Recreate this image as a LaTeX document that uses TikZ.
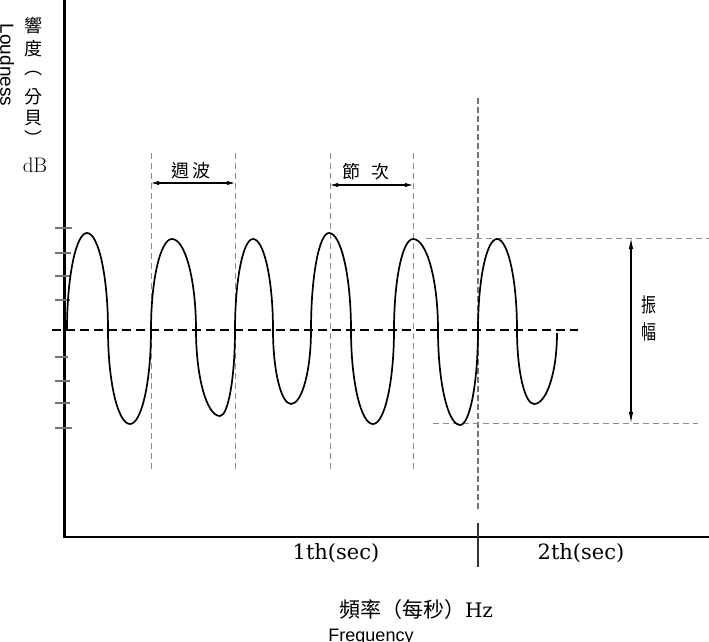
\documentclass[tikz,border=0pt]{standalone}
\usepackage{fontspec}
\newfontfamily\cjk{Noto Sans CJK TC}
\newfontfamily\lsans{Liberation Sans}
\newfontfamily\dvserif{DejaVu Serif}
\usetikzlibrary{arrows.meta}
\begin{document}
\begin{tikzpicture}[x=1pt,y=-1pt,
  axisline/.style={line width=2.8pt,black},
  tickline/.style={line width=1.1pt,black!55},
  guide/.style={line width=1pt,black!45,dash pattern=on 6pt off 4pt},
  baseline/.style={line width=2.4pt,black,dash pattern=on 9pt off 5pt},
  wave/.style={line width=1.7pt,black,line join=round},
  dimarrow/.style={line width=1.1pt,{Latex[length=8pt,width=4.5pt]}-{Latex[length=8pt,width=4.5pt]}},
  cjklabel/.style={font=\cjk\fontsize{18}{20}\selectfont,inner sep=0pt},
  serlabel/.style={font=\dvserif\fontsize{21}{24}\selectfont,inner sep=0pt}]
\useasboundingbox (0,0) rectangle (709,642);
% axes
\coordinate (O) at (64.5,537);
\coordinate (ytop) at (64.5,0);
\coordinate (xend) at (709,537);
\draw[axisline] (ytop) -- (O) -- (xend);
% ticks
\foreach \ty/\tl in {228/72,253/71,276/71,300/70,357/68,381/70,403/70,428/72}
  \draw[tickline] (55,\ty) -- (\tl,\ty);
% baseline
\coordinate (b0) at (52,330);
\coordinate (b1) at (578,330);
\draw[baseline] (b0) -- (b1);
% guide lines
\foreach \gx/\nm in {151/ga,235/gb,330/gc,413/gd}{
  \coordinate (\nm t) at (\gx,153);
  \coordinate (\nm b) at (\gx,472);
  \draw[guide] (\nm t) -- (\nm b);
}
\coordinate (get) at (478,98);
\coordinate (geb) at (478,510);
\draw[guide,black!55,line width=1.2pt,dash pattern=on 6pt off 3pt] (get) -- (geb);
\coordinate (gst) at (478,523);
\coordinate (gsb) at (478,567);
\draw[line width=1.1pt,black!80] (gst) -- (gsb);
\coordinate (htl) at (426,238);
\coordinate (htr) at (709,238);
\coordinate (hbl) at (433,423);
\coordinate (hbr) at (698,423);
\draw[guide] (htl) -- (htr);
\draw[guide] (hbl) -- (hbr);
% wave
\draw[wave] (67,330)
  foreach \xa/\xm/\ye/\xb in {67/87/233/108,108/130/424/151,151/172/239/196,196/220/416/235,
     235/253/239/273,273/291/404/311,311/329/233/351,351/373/424/394,394/413/239/438,
     438/460/425/478,478/497/239/517}
  { .. controls (\xa,{330+0.55*(\ye-330)}) and ({\xm-0.55*(\xm-\xa)},\ye) .. (\xm,\ye)
    .. controls ({\xm+0.55*(\xb-\xm)},\ye) and (\xb,{330+0.55*(\ye-330)}) .. (\xb,330) }
  .. controls (517,{330+0.55*74}) and ({534-0.55*17},404) .. (534,404)
  .. controls ({534+0.55*23},404) and (557,{333+0.55*71}) .. (557,333);
% dimension arrows
\coordinate (wa) at (151,183);
\coordinate (wb) at (235,183);
\draw[dimarrow] (wa) -- (wb);
\coordinate (ja) at (330,185);
\coordinate (jb) at (413,185);
\draw[dimarrow] (ja) -- (jb);
\coordinate (za) at (631,238);
\coordinate (zb) at (631,423);
\draw[line width=1.1pt,{Latex[length=11pt,width=4.5pt]}-{Latex[length=11pt,width=4.5pt]}] (za) -- (zb);
% labels
\node[cjklabel] (zhouBo) at (191,171) {週\hspace{4pt}波};
\node[cjklabel] (jieCi) at (366,172) {節\hspace{12pt}次};
\node[cjklabel,font=\cjk\fontsize{20}{22}\selectfont,xscale=0.75] (zhen) at (649,305) {振};
\node[cjklabel,font=\cjk\fontsize{20}{22}\selectfont,xscale=0.75] (fu) at (649,332) {幅};
\node[rotate=-90,anchor=base,inner sep=0pt,font=\lsans\fontsize{19}{22}\selectfont] (loud) at (0.5,65) {Loudness};
\foreach \ch/\cy/\nm in {響/25.5/v1,度/49/v2,︵/74/v3,分/96.5/v4,貝/118.5/v5,︶/138/v6}
  \node[cjklabel] (\nm) at (33,\cy) {\ch};
\node[inner sep=0pt,font=\fontsize{21}{24}\selectfont] (dB) at (35,165) {dB};
\node[serlabel] (t1) at (336,553) {1th(sec)};
\node[serlabel] (t2) at (581,553) {2th(sec)};
\node[inner sep=0pt,font=\cjk\fontsize{21}{24}\selectfont] (freqzh) at (416,610) {頻率（每秒）{\dvserif\fontsize{20}{24}\selectfont Hz}};
\node[inner sep=0pt,anchor=base,font=\lsans\fontsize{18}{20}\selectfont] (freqen) at (371,641) {Frequency};
\end{tikzpicture}
\end{document}
